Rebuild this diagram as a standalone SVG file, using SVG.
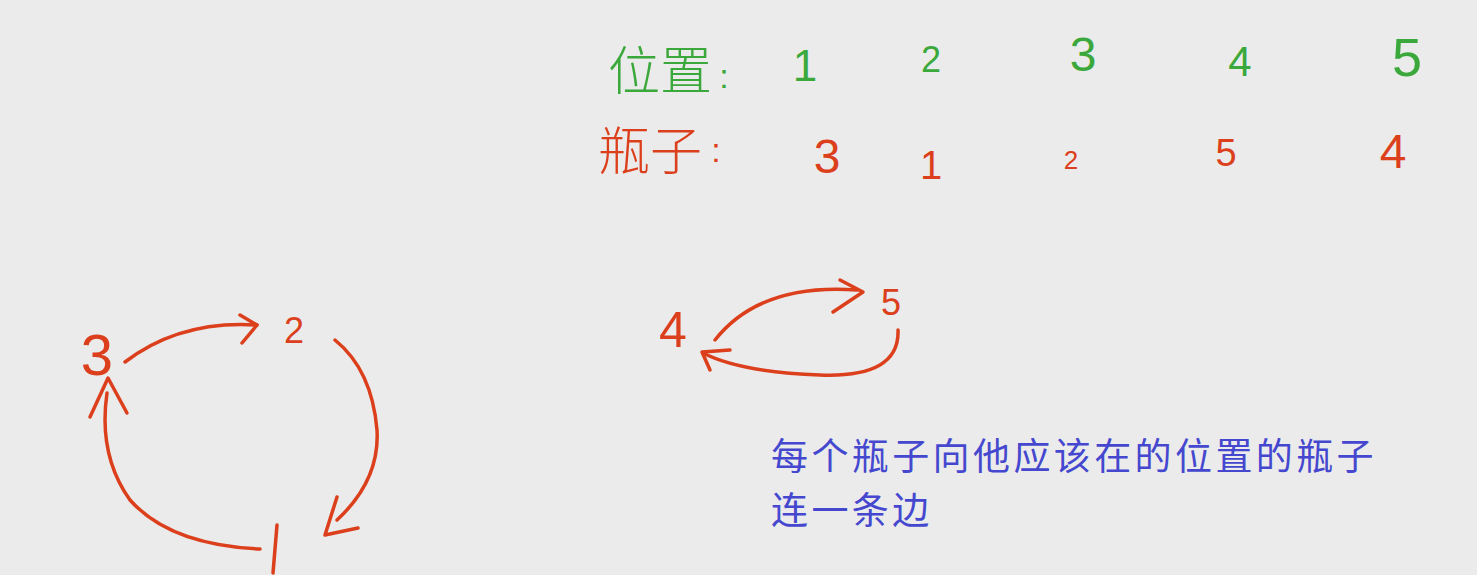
<svg xmlns="http://www.w3.org/2000/svg" width="1477" height="575" viewBox="0 0 1477 575">
<style>
.g{fill:#3aa83a;font-family:"Liberation Sans","Noto Sans CJK SC",sans-serif;text-anchor:middle}
.r{fill:#dc3f1c;font-family:"Liberation Sans","Noto Sans CJK SC",sans-serif;text-anchor:middle}
.cj{font-family:"Noto Sans CJK SC",sans-serif;font-weight:300;text-anchor:start}
.b{fill:#4548cf;font-family:"Noto Sans CJK SC","Liberation Sans",sans-serif;font-size:37px;font-weight:400;letter-spacing:3.4px}
.e{fill:none;stroke:#dc3f1c;stroke-width:3.5;stroke-linecap:round;stroke-linejoin:round}
</style>
<rect width="1477" height="575" fill="#ebebeb"/>
<g id="row-position">
<text class="g cj" x="608" y="90" font-size="52">位置</text>
<text class="g" x="724" y="88" font-size="34">:</text>
<text class="g" x="805" y="81" font-size="44">1</text>
<text class="g" x="931" y="72" font-size="36">2</text>
<text class="g" x="1083" y="71" font-size="48">3</text>
<text class="g" x="1240" y="76" font-size="42">4</text>
<text class="g" x="1407" y="76" font-size="54">5</text>
</g>
<g id="row-bottle">
<text class="r cj" x="598" y="170" font-size="52">瓶子</text>
<text class="r" x="716" y="162" font-size="34">:</text>
<text class="r" x="827" y="173" font-size="48">3</text>
<text class="r" x="931" y="179" font-size="40">1</text>
<text class="r" x="1071" y="169" font-size="26">2</text>
<text class="r" x="1226" y="166" font-size="38">5</text>
<text class="r" x="1393" y="168" font-size="48">4</text>
</g>
<g id="node-3"><text class="r" x="97" y="375" font-size="58">3</text></g>
<g id="node-2"><text class="r" x="294" y="343" font-size="36">2</text></g>
<g id="node-1"><path class="e" d="M277 525 L273 573"/></g>
<g id="node-4"><text class="r" x="673" y="347" font-size="50">4</text></g>
<g id="node-5"><text class="r" x="891" y="315" font-size="36">5</text></g>
<g id="connectors">
<path class="e" d="M125 362 Q180 320 257 325"/>
<path class="e" d="M240 315 L257 325 L242 343"/>
<path class="e" d="M335 340 Q372 370 377 430 Q380 480 337 520"/>
<path class="e" d="M337 497 L325 535 L358 528"/>
<path class="e" d="M260 549 Q170 545 130 500 Q98 455 107 393"/>
<path class="e" d="M90 417 L108 378 L127 413"/>
<path class="e" d="M715 340 Q760 283 857 290"/>
<path class="e" d="M840 280 L863 292 L833 312"/>
<path class="e" d="M898 330 Q900 378 820 375 Q740 372 703 353"/>
<path class="e" d="M730 350 L702 352 L710 370"/>
</g>
<g id="note">
<text class="b" x="771" y="470">每个瓶子向他应该在的位置的瓶子</text>
<text class="b" x="771" y="524">连一条边</text>
</g>
</svg>
